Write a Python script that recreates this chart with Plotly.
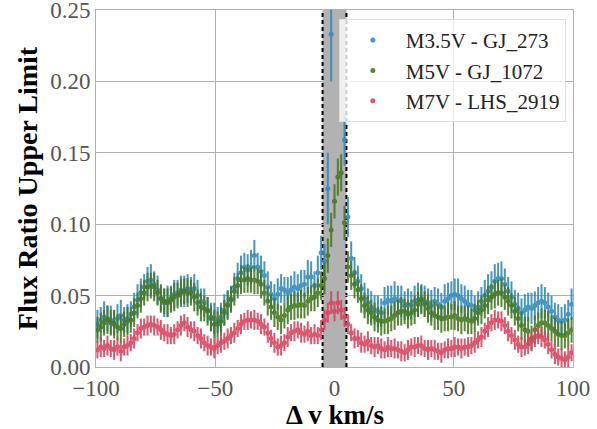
import plotly.graph_objects as go

velocity = [
    -99.4, -98.0, -96.6, -95.2, -93.8, -92.4, -91.0, -89.6, -88.2, -86.8,
    -85.4, -84.0, -82.6, -81.2, -79.8, -78.4, -77.0, -75.6, -74.2, -72.8,
    -71.4, -70.0, -68.6, -67.2, -65.8, -64.4, -63.0, -61.6, -60.2, -58.8,
    -57.4, -56.0, -54.6, -53.2, -51.8, -50.4, -49.0, -47.6, -46.2, -44.8,
    -43.4, -42.0, -40.6, -39.2, -37.8, -36.4, -35.0, -33.6, -32.2, -30.8,
    -29.4, -28.0, -26.6, -25.2, -23.8, -22.4, -21.0, -19.6, -18.2, -16.8,
    -15.4, -14.0, -12.6, -11.2, -9.8, -8.4, -7.0, -5.6, -4.2, -2.8,
    -1.4, 0.0, 1.4, 2.8, 4.2, 5.6, 7.0, 8.4, 9.8, 11.2,
    12.6, 14.0, 15.4, 16.8, 18.2, 19.6, 21.0, 22.4, 23.8, 25.2,
    26.6, 28.0, 29.4, 30.8, 32.2, 33.6, 35.0, 36.4, 37.8, 39.2,
    40.6, 42.0, 43.4, 44.8, 46.2, 47.6, 49.0, 50.4, 51.8, 53.2,
    54.6, 56.0, 57.4, 58.8, 60.2, 61.6, 63.0, 64.4, 65.8, 67.2,
    68.6, 70.0, 71.4, 72.8, 74.2, 75.6, 77.0, 78.4, 79.8, 81.2,
    82.6, 84.0, 85.4, 86.8, 88.2, 89.6, 91.0, 92.4, 93.8, 95.2,
    96.6, 98.0, 99.4,
]

flux_gj273 = [
    0.030, 0.033, 0.035, 0.034, 0.033, 0.031, 0.034, 0.036, 0.033, 0.034,
    0.037, 0.042, 0.047, 0.052, 0.056, 0.060, 0.061, 0.058, 0.054, 0.048,
    0.045, 0.046, 0.048, 0.051, 0.052, 0.054, 0.053, 0.055, 0.054, 0.055,
    0.050, 0.046, 0.045, 0.040, 0.035, 0.034, 0.033, 0.035, 0.040, 0.044,
    0.048, 0.056, 0.062, 0.066, 0.070, 0.068, 0.070, 0.078, 0.070, 0.067,
    0.064, 0.056, 0.051, 0.048, 0.051, 0.055, 0.054, 0.052, 0.054, 0.056,
    0.055, 0.057, 0.058, 0.063, 0.063, 0.057, 0.066, 0.080, 0.074, 0.125,
    0.233, 0.310, 0.360, 0.290, 0.159, 0.105, 0.076, 0.066, 0.060, 0.055,
    0.048, 0.045, 0.042, 0.040, 0.039, 0.038, 0.045, 0.047, 0.046, 0.048,
    0.047, 0.046, 0.043, 0.044, 0.043, 0.046, 0.047, 0.048, 0.046, 0.045,
    0.043, 0.046, 0.044, 0.042, 0.046, 0.048, 0.050, 0.051, 0.050, 0.048,
    0.046, 0.044, 0.043, 0.040, 0.042, 0.046, 0.050, 0.053, 0.056, 0.060,
    0.062, 0.062, 0.058, 0.053, 0.049, 0.044, 0.041, 0.038, 0.040, 0.042,
    0.041, 0.043, 0.045, 0.046, 0.045, 0.042, 0.039, 0.035, 0.033, 0.032,
    0.033, 0.037, 0.044,
]
err_gj273 = [
    0.010, 0.009, 0.011, 0.009, 0.010, 0.009, 0.010, 0.011, 0.009, 0.010,
    0.009, 0.010, 0.011, 0.010, 0.009, 0.010, 0.011, 0.009, 0.010, 0.009,
    0.010, 0.011, 0.009, 0.010, 0.009, 0.010, 0.011, 0.010, 0.009, 0.010,
    0.011, 0.009, 0.010, 0.009, 0.010, 0.011, 0.009, 0.010, 0.011, 0.010,
    0.009, 0.010, 0.011, 0.012, 0.010, 0.011, 0.012, 0.011, 0.010, 0.011,
    0.010, 0.011, 0.009, 0.010, 0.011, 0.010, 0.009, 0.011, 0.010, 0.011,
    0.010, 0.011, 0.010, 0.012, 0.011, 0.010, 0.012, 0.012, 0.012, 0.025,
    0.033, 0.050, 0.060, 0.040, 0.018, 0.014, 0.012, 0.011, 0.011, 0.010,
    0.011, 0.010, 0.011, 0.010, 0.011, 0.010, 0.011, 0.010, 0.011, 0.012,
    0.010, 0.011, 0.010, 0.011, 0.010, 0.011, 0.012, 0.010, 0.011, 0.010,
    0.011, 0.010, 0.011, 0.010, 0.012, 0.011, 0.010, 0.011, 0.012, 0.010,
    0.011, 0.010, 0.011, 0.010, 0.011, 0.010, 0.011, 0.012, 0.011, 0.012,
    0.011, 0.012, 0.011, 0.010, 0.011, 0.010, 0.011, 0.010, 0.011, 0.010,
    0.011, 0.010, 0.011, 0.012, 0.011, 0.010, 0.011, 0.010, 0.011, 0.010,
    0.011, 0.010, 0.011,
]

flux_gj1072 = [
    0.026, 0.028, 0.031, 0.033, 0.031, 0.030, 0.028, 0.027, 0.030, 0.032,
    0.033, 0.038, 0.043, 0.048, 0.052, 0.056, 0.057, 0.056, 0.052, 0.048,
    0.046, 0.045, 0.047, 0.049, 0.050, 0.052, 0.053, 0.052, 0.052, 0.049,
    0.045, 0.042, 0.041, 0.039, 0.034, 0.030, 0.030, 0.032, 0.038, 0.043,
    0.047, 0.053, 0.057, 0.061, 0.061, 0.062, 0.061, 0.061, 0.060, 0.058,
    0.052, 0.046, 0.042, 0.038, 0.035, 0.033, 0.036, 0.040, 0.042, 0.043,
    0.043, 0.044, 0.043, 0.046, 0.048, 0.049, 0.052, 0.057, 0.062, 0.078,
    0.096, 0.116, 0.133, 0.136, 0.101, 0.070, 0.064, 0.058, 0.054, 0.048,
    0.043, 0.040, 0.038, 0.035, 0.033, 0.032, 0.032, 0.033, 0.034, 0.036,
    0.038, 0.039, 0.039, 0.037, 0.038, 0.040, 0.044, 0.047, 0.044, 0.041,
    0.038, 0.036, 0.035, 0.034, 0.034, 0.035, 0.035, 0.036, 0.034, 0.033,
    0.034, 0.033, 0.032, 0.034, 0.038, 0.040, 0.043, 0.047, 0.049, 0.051,
    0.052, 0.052, 0.049, 0.046, 0.043, 0.039, 0.034, 0.029, 0.026, 0.025,
    0.020, 0.026, 0.029, 0.031, 0.031, 0.029, 0.027, 0.025, 0.023, 0.022,
    0.022, 0.024, 0.026,
]
err_gj1072 = [
    0.009, 0.010, 0.009, 0.010, 0.009, 0.010, 0.009, 0.010, 0.009, 0.010,
    0.009, 0.010, 0.009, 0.010, 0.009, 0.010, 0.009, 0.010, 0.009, 0.010,
    0.009, 0.010, 0.009, 0.010, 0.009, 0.010, 0.009, 0.010, 0.009, 0.010,
    0.009, 0.010, 0.009, 0.010, 0.009, 0.010, 0.009, 0.010, 0.009, 0.010,
    0.009, 0.010, 0.009, 0.010, 0.009, 0.010, 0.009, 0.010, 0.009, 0.010,
    0.009, 0.010, 0.009, 0.010, 0.009, 0.010, 0.009, 0.010, 0.009, 0.010,
    0.009, 0.010, 0.009, 0.010, 0.009, 0.010, 0.010, 0.010, 0.011, 0.012,
    0.012, 0.012, 0.013, 0.013, 0.012, 0.011, 0.010, 0.010, 0.009, 0.010,
    0.009, 0.010, 0.009, 0.010, 0.009, 0.010, 0.009, 0.010, 0.009, 0.010,
    0.009, 0.010, 0.009, 0.010, 0.009, 0.010, 0.009, 0.010, 0.009, 0.010,
    0.009, 0.010, 0.009, 0.010, 0.009, 0.010, 0.009, 0.010, 0.009, 0.010,
    0.009, 0.010, 0.009, 0.010, 0.009, 0.010, 0.009, 0.010, 0.009, 0.010,
    0.009, 0.010, 0.009, 0.010, 0.009, 0.010, 0.009, 0.010, 0.009, 0.010,
    0.009, 0.010, 0.009, 0.010, 0.009, 0.010, 0.009, 0.010, 0.009, 0.010,
    0.009, 0.010, 0.009,
]

flux_lhs2919 = [
    0.012, 0.014, 0.013, 0.015, 0.013, 0.012, 0.014, 0.011, 0.014, 0.015,
    0.017, 0.020, 0.024, 0.027, 0.028, 0.029, 0.030, 0.029, 0.028, 0.026,
    0.024, 0.023, 0.022, 0.023, 0.026, 0.029, 0.031, 0.028, 0.026, 0.025,
    0.022, 0.020, 0.017, 0.015, 0.014, 0.013, 0.015, 0.017, 0.018, 0.020,
    0.022, 0.024, 0.027, 0.030, 0.032, 0.033, 0.033, 0.033, 0.032, 0.030,
    0.028, 0.024, 0.020, 0.017, 0.014, 0.015, 0.017, 0.021, 0.024, 0.025,
    0.026, 0.024, 0.023, 0.025, 0.022, 0.023, 0.022, 0.026, 0.033, 0.038,
    0.045, 0.039, 0.045, 0.040, 0.035, 0.030, 0.024, 0.020, 0.020, 0.017,
    0.016, 0.018, 0.015, 0.014, 0.015, 0.013, 0.012, 0.014, 0.013, 0.013,
    0.012, 0.011, 0.010, 0.012, 0.014, 0.014, 0.015, 0.015, 0.013, 0.012,
    0.013, 0.012, 0.011, 0.010, 0.012, 0.013, 0.013, 0.014, 0.014, 0.013,
    0.014, 0.014, 0.015, 0.017, 0.019, 0.021, 0.025, 0.028, 0.031, 0.033,
    0.033, 0.032, 0.029, 0.025, 0.022, 0.019, 0.016, 0.014, 0.014, 0.016,
    0.018, 0.021, 0.022, 0.021, 0.019, 0.016, 0.012, 0.009, 0.007, 0.006,
    0.005, 0.007, 0.010,
]
err_lhs2919 = [
    0.006, 0.007, 0.006, 0.007, 0.006, 0.007, 0.006, 0.007, 0.006, 0.007,
    0.006, 0.007, 0.006, 0.007, 0.006, 0.007, 0.006, 0.007, 0.006, 0.007,
    0.006, 0.007, 0.006, 0.007, 0.006, 0.007, 0.006, 0.007, 0.006, 0.007,
    0.006, 0.007, 0.006, 0.007, 0.006, 0.007, 0.006, 0.007, 0.006, 0.007,
    0.006, 0.007, 0.006, 0.007, 0.006, 0.007, 0.006, 0.007, 0.006, 0.007,
    0.006, 0.007, 0.006, 0.007, 0.006, 0.007, 0.006, 0.007, 0.006, 0.007,
    0.006, 0.007, 0.006, 0.007, 0.006, 0.007, 0.006, 0.007, 0.007, 0.007,
    0.008, 0.007, 0.008, 0.007, 0.007, 0.007, 0.006, 0.007, 0.006, 0.007,
    0.006, 0.007, 0.006, 0.007, 0.006, 0.007, 0.006, 0.007, 0.006, 0.007,
    0.006, 0.007, 0.006, 0.007, 0.006, 0.007, 0.006, 0.007, 0.006, 0.007,
    0.006, 0.007, 0.006, 0.007, 0.006, 0.007, 0.006, 0.007, 0.006, 0.007,
    0.006, 0.007, 0.006, 0.007, 0.006, 0.007, 0.006, 0.007, 0.006, 0.007,
    0.006, 0.007, 0.006, 0.007, 0.006, 0.007, 0.006, 0.007, 0.006, 0.007,
    0.006, 0.007, 0.006, 0.007, 0.006, 0.007, 0.006, 0.007, 0.006, 0.007,
    0.006, 0.007, 0.006,
]

series_names = ["M3.5V - GJ_273", "M5V - GJ_1072", "M7V - LHS_2919"]
series_colors = ["#348ABD", "#467821", "#D6455E"]
mask_edges = [-5, 5]
x_ticks = [-100, -50, 0, 50, 100]
y_ticks = [0.0, 0.05, 0.10, 0.15, 0.20, 0.25]

SERIF = "Liberation Serif, Times New Roman, serif"

fig = go.Figure()
for name, color, ys, es in zip(series_names, series_colors,
                               [flux_gj273, flux_gj1072, flux_lhs2919],
                               [err_gj273, err_gj1072, err_lhs2919]):
    fig.add_trace(go.Scatter(
        x=velocity, y=ys, name=name, mode="markers",
        marker=dict(color=color, size=5),
        error_y=dict(type="data", array=es, visible=True, color=color,
                     thickness=2, width=0),
        opacity=0.9,
        cliponaxis=True,
    ))

fig.add_shape(type="rect", xref="x", yref="paper",
              x0=mask_edges[0], x1=mask_edges[1], y0=0, y1=1,
              fillcolor="rgba(0,0,0,0.3)", line=dict(width=0), layer="between")
for xe in mask_edges:
    fig.add_shape(type="line", xref="x", yref="paper", x0=xe, x1=xe, y0=0, y1=1,
                  line=dict(color="black", width=2, dash="4px,3px"), layer="between")

fig.add_annotation(
    text="<b>Δ v km/s</b>", xref="paper", yref="paper", x=0.5, y=-0.135,
    xanchor="center", yanchor="middle", showarrow=False,
    font=dict(family=SERIF, size=27, color="black"),
)

fig.update_layout(
    width=597, height=429,
    margin=dict(l=96, r=24, t=10, b=62),
    paper_bgcolor="white", plot_bgcolor="white",
    font=dict(family=SERIF, color="#555555"),
    showlegend=True,
    legend=dict(
        x=0.985, y=0.975, xanchor="right", yanchor="top",
        bgcolor="rgba(255,255,255,0.8)", bordercolor="#dddddd", borderwidth=1,
        font=dict(family=SERIF, size=21, color="#222222"),
        itemwidth=56, tracegroupgap=2,
    ),
    xaxis=dict(
        range=[-100, 100], tickvals=x_ticks, automargin=False,
        tickfont=dict(family=SERIF, size=23, color="#555555"),
        ticklabeloverflow="allow",
        showgrid=True, gridcolor="#b0b0b0", gridwidth=1.2,
        showline=True, linecolor="#b0b0b0", linewidth=1, mirror=True,
        zeroline=False, ticks="",
    ),
    yaxis=dict(
        range=[0, 0.25], tickvals=y_ticks, tickformat=".2f", automargin=False,
        tickfont=dict(family=SERIF, size=23, color="#555555"),
        ticklabeloverflow="allow",
        showgrid=True, gridcolor="#b0b0b0", gridwidth=1.2,
        showline=True, linecolor="#b0b0b0", linewidth=1, mirror=True,
        zeroline=False, ticks="",
        title=dict(text="<b>Flux Ratio Upper Limit</b>",
                   font=dict(family=SERIF, size=28, color="black"), standoff=4),
    ),
)

fig.write_html("out.html", config={"displayModeBar": False},
               post_script="document.body.style.margin='0px';")
